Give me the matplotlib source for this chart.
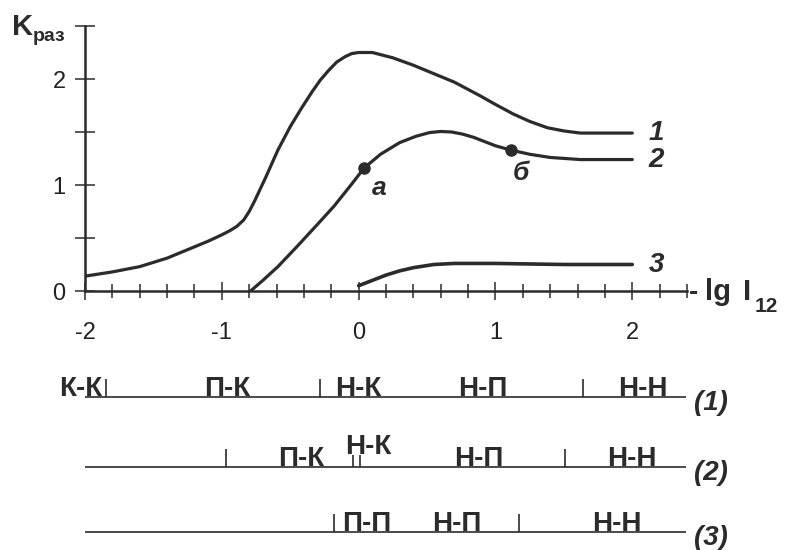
import numpy as np
import matplotlib
matplotlib.use("Agg")
import matplotlib.pyplot as plt
from matplotlib.ticker import MultipleLocator, FixedLocator

plt.rcParams['font.family'] = ['Liberation Sans', 'DejaVu Sans']

# кривые K_раз(-lg I12)
x1 = [-2.0, -1.8, -1.6, -1.4, -1.25, -1.1, -1.0, -0.94, -0.89, -0.84, -0.8, -0.76, -0.68,
      -0.59, -0.5, -0.42, -0.34, -0.28, -0.22, -0.16, -0.1, -0.05, 0.0, 0.1, 0.25,
      0.4, 0.55, 0.7, 0.89, 1.0, 1.13, 1.25, 1.38, 1.5, 1.62, 1.8, 2.0]
y1 = [0.14, 0.18, 0.23, 0.31, 0.39, 0.47, 0.53, 0.57, 0.61, 0.67, 0.75, 0.85, 1.07,
      1.33, 1.55, 1.72, 1.88, 1.99, 2.08, 2.16, 2.21, 2.24, 2.25, 2.25, 2.2,
      2.13, 2.05, 1.97, 1.84, 1.76, 1.67, 1.6, 1.54, 1.51, 1.49, 1.49, 1.49]

x2 = [-0.79, -0.7, -0.59, -0.45, -0.3, -0.18, -0.05, 0.04, 0.16, 0.3, 0.42, 0.52,
      0.6, 0.68, 0.76, 0.84, 0.92, 1.0, 1.11, 1.25, 1.4, 1.62, 2.0]
y2 = [0.0, 0.1, 0.23, 0.42, 0.63, 0.8, 1.01, 1.16, 1.29, 1.4, 1.46, 1.495,
      1.505, 1.5, 1.48, 1.45, 1.41, 1.37, 1.33, 1.29, 1.26, 1.24, 1.24]

x3 = [0.0, 0.1, 0.2, 0.3, 0.4, 0.55, 0.7, 1.0, 1.5, 2.0]
y3 = [0.05, 0.10, 0.15, 0.19, 0.22, 0.25, 0.26, 0.26, 0.25, 0.25]

# точки а и б на кривой 2
pt_x = [0.04, 1.11]
pt_y = [1.16, 1.33]
pt_labels = ['а', 'б']

curve_names = ['1', '2', '3']

# области (нижняя часть)
band1_bounds = [-1.85, -0.28, 1.64]
band1_labels = ['К-К', 'П-К', 'Н-К', 'Н-П', 'Н-Н']
band1_pos = [-2.03, -0.96, 0.0, 0.91, 2.08]

band2_bounds = [-0.97, 1.51]
band2_double = [-0.04, 0.01]
band2_labels = ['П-К', 'Н-К', 'Н-П', 'Н-Н']
band2_pos = [-0.42, 0.07, 0.88, 2.0]

band3_bounds = [-0.18, 1.17]
band3_labels = ['П-П', 'Н-П', 'Н-Н']
band3_pos = [0.06, 0.72, 1.89]

ink = '#2b2b2b'
W, H = 790, 550
fig = plt.figure(figsize=(7.9, 5.5), dpi=100)

ax = fig.add_axes([85 / W, (H - 291) / H, 602 / W, 265 / H])
ax.set_xlim(-2, 2.4)
ax.set_ylim(0, 2.5)

ax.plot(x1, y1, color=ink, lw=2.3, solid_capstyle='round', solid_joinstyle='round')
ax.plot(x2, y2, color=ink, lw=2.3, solid_capstyle='round', solid_joinstyle='round')
ax.plot(x3, y3, color=ink, lw=2.6, solid_capstyle='round', solid_joinstyle='round')
ax.plot(pt_x, pt_y, 'o', color=ink, ms=8)

ax.text(pt_x[0] + 0.11, pt_y[0] - 0.19, pt_labels[0], fontsize=19, fontweight='bold',
        style='italic', color=ink, ha='center', va='center')
ax.text(pt_x[1] + 0.08, pt_y[1] - 0.22, pt_labels[1], fontsize=19, fontweight='bold',
        style='italic', color=ink, ha='center', va='center')

for xs, ys, name in zip([x1, x2, x3], [y1, y2, y3], curve_names):
    ax.text(xs[-1] + 0.12, ys[-1], name, fontsize=20, fontweight='bold', style='italic',
            color=ink, ha='left', va='center')

for s in ['top', 'right']:
    ax.spines[s].set_visible(False)
for s in ['left', 'bottom']:
    ax.spines[s].set_linewidth(1.8)
    ax.spines[s].set_color(ink)

ax.xaxis.set_major_locator(FixedLocator([-2, -1, 0, 1, 2]))
ax.xaxis.set_minor_locator(MultipleLocator(0.2))
ax.yaxis.set_major_locator(FixedLocator([0, 1, 2]))
ax.yaxis.set_minor_locator(FixedLocator([0.5, 1.5, 2.5]))
ax.tick_params(axis='x', which='major', direction='inout', length=13, width=1.1,
               colors=ink, labelsize=17, pad=16)
ax.tick_params(axis='x', which='minor', direction='inout', length=10, width=1.1, colors=ink)
ax.tick_params(axis='y', which='both', direction='inout', length=14, width=1.1,
               colors=ink, labelsize=17, pad=7)
ax.set_xticklabels(['-2', '-1', '0', '1', '2'])
for lab in ax.get_xticklabels() + ax.get_yticklabels():
    lab.set_color('#222222')

# подписи осей
fig.text(12 / W, 1 - 35 / H, 'K', fontsize=21, fontweight='bold', color=ink, va='baseline')
fig.text(33 / W, 1 - 41 / H, 'раз', fontsize=14, fontweight='bold', color=ink, va='baseline')
fig.text(689 / W, 1 - 300 / H, '-', fontsize=20, fontweight='bold', color=ink, va='baseline')
fig.text(705 / W, 1 - 300 / H, 'lg', fontsize=21, fontweight='bold', color=ink, va='baseline')
fig.text(743 / W, 1 - 300 / H, 'I', fontsize=21, fontweight='bold', color=ink, va='baseline')
fig.text(755 / W, 1 - 312 / H, '12', fontsize=15, fontweight='bold', color=ink, va='baseline')

# нижняя часть: области
bx = fig.add_axes([85 / W, 0, 602 / W, 1])
bx.set_xlim(-2, 2.4)
bx.set_ylim(H, 0)
bx.axis('off')

rows = [397, 467, 532]
bands = [(band1_bounds, band1_labels, band1_pos, '(1)'),
         (band2_bounds, band2_labels, band2_pos, '(2)'),
         (band3_bounds, band3_labels, band3_pos, '(3)')]
for ry, (bounds, labels, pos, tag) in zip(rows, bands):
    bx.hlines(ry, -2, 2.39, color=ink, lw=1.2)
    bx.vlines(bounds, ry - 18, ry, color=ink, lw=1.2)
    for lab, p in zip(labels, pos):
        dy = 12 if (tag == '(2)' and lab == 'Н-К') else 0
        bx.text(p, ry - 1 - dy, lab, fontsize=20, fontweight='bold', color=ink,
                ha='center', va='baseline', clip_on=False)
    bx.text(2.45, ry + 6, tag, fontsize=20, fontweight='bold', style='italic',
            color=ink, ha='left', va='center', clip_on=False)
bx.vlines(band2_double, rows[1] - 12, rows[1], color=ink, lw=1.2)

fig.savefig('out.png', dpi=100)
